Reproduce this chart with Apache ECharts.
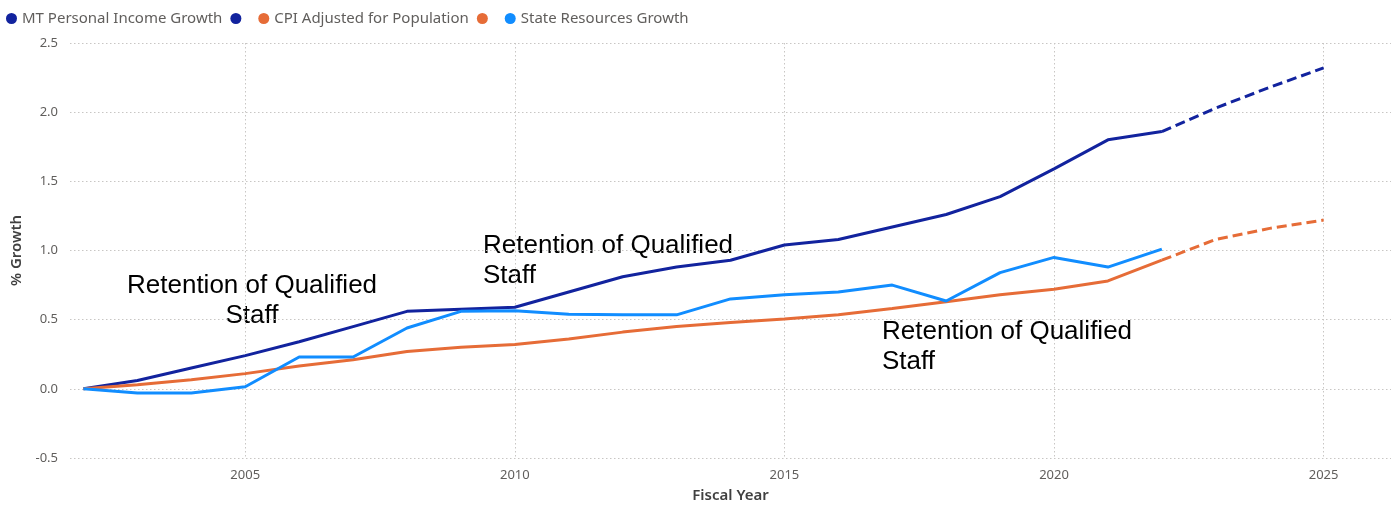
<!DOCTYPE html>
<html>
<head>
<meta charset="utf-8">
<script src="https://cdn.jsdelivr.net/npm/echarts@6/dist/echarts.min.js"></script>
<style>
  html, body { margin: 0; padding: 0; background: #fff; }
  #main { width: 1395px; height: 508px; }
</style>
</head>
<body>
<div id="main"></div>
<script>
// actual years and forecast years
var years = [2002, 2003, 2004, 2005, 2006, 2007, 2008, 2009, 2010, 2011, 2012,
             2013, 2014, 2015, 2016, 2017, 2018, 2019, 2020, 2021, 2022];
var forecastYears = [2022, 2023, 2024, 2025];

var incomeGrowth = [0, 0.06, 0.15, 0.24, 0.34, 0.45, 0.56, 0.575, 0.59, 0.70, 0.81,
                    0.88, 0.93, 1.04, 1.08, 1.17, 1.26, 1.39, 1.59, 1.80, 1.86];
var incomeForecast = [1.86, 2.03, 2.18, 2.32];

var cpiGrowth = [0, 0.03, 0.065, 0.11, 0.165, 0.21, 0.27, 0.30, 0.32, 0.36, 0.41,
                 0.45, 0.48, 0.505, 0.535, 0.58, 0.63, 0.68, 0.72, 0.78, 0.93];
var cpiForecast = [0.93, 1.08, 1.16, 1.22];

var resourcesGrowth = [0, -0.03, -0.03, 0.015, 0.23, 0.23, 0.44, 0.56, 0.565, 0.54, 0.535,
                       0.535, 0.65, 0.68, 0.70, 0.75, 0.635, 0.84, 0.95, 0.88, 1.01];

var yTicks = [-0.5, 0, 0.5, 1, 1.5, 2, 2.5];
var note = 'Retention of Qualified\nStaff';

function pairs(xs, ys) {
    return xs.map(function (x, i) { return [x, ys[i]]; });
}

var chartDom = document.getElementById('main');
var myChart = echarts.init(chartDom);
var option;

var gridLine = { color: '#C8C6C4', width: 1, type: [1.5, 2.5] };
var labelColor = '#605E5C';
var titleStyle = { color: '#404040', fontSize: 15, fontWeight: 600, fontFamily: 'Noto Sans' };
var noteFont = '26px "Liberation Sans"';

option = {
    animation: false,
    backgroundColor: '#fff',
    legend: {
        left: 1,
        top: 6,
        icon: 'circle',
        itemWidth: 11,
        itemHeight: 11,
        itemGap: 8,
        textStyle: { color: labelColor, fontSize: 15, fontFamily: 'Noto Sans' },
        formatter: function (name) {
            // forecast series only show their dot
            return name.indexOf('Forecast') >= 0 ? ' ' : name;
        },
        data: ['MT Personal Income Growth', 'MT Personal Income Growth Forecast',
               'CPI Adjusted for Population', 'CPI Adjusted for Population Forecast',
               'State Resources Growth']
    },
    grid: { left: 70, right: 4, top: 43, bottom: 49, containLabel: false },
    xAxis: {
        type: 'value',
        min: 2001.75,
        max: 2026.25,
        name: 'Fiscal Year',
        nameLocation: 'middle',
        nameGap: 30,
        nameTextStyle: titleStyle,
        axisLine: { show: false },
        axisTick: { show: false },
        axisLabel: {
            color: labelColor,
            fontSize: 13,
            fontFamily: 'Noto Sans',
            margin: 11,
            formatter: function (v) { return v % 5 === 0 ? String(v) : ''; }
        },
        splitLine: { show: true, showMinLine: false, showMaxLine: false, lineStyle: gridLine }
    },
    yAxis: {
        type: 'value',
        min: yTicks[0],
        max: yTicks[yTicks.length - 1],
        interval: 0.5,
        name: '% Growth',
        nameLocation: 'middle',
        nameGap: 45,
        nameTextStyle: titleStyle,
        axisLine: { show: false },
        axisTick: { show: false },
        axisLabel: {
            color: labelColor,
            fontSize: 13,
            fontFamily: 'Noto Sans',
            margin: 12,
            formatter: function (v) { return v.toFixed(1); }
        },
        splitLine: { show: true, lineStyle: gridLine }
    },
    graphic: [
        { type: 'text', left: 127, top: 271, style: { text: note, textAlign: 'center', font: noteFont, fill: '#000', lineHeight: 30 } },
        { type: 'text', left: 483, top: 231, style: { text: note, textAlign: 'left', font: noteFont, fill: '#000', lineHeight: 30 } },
        { type: 'text', left: 882, top: 317, style: { text: note, textAlign: 'left', font: noteFont, fill: '#000', lineHeight: 30 } }
    ],
    series: [
        {
            name: 'MT Personal Income Growth',
            type: 'line',
            data: pairs(years, incomeGrowth),
            showSymbol: false,
            color: '#12239E',
            lineStyle: { width: 3 }
        },
        {
            name: 'MT Personal Income Growth Forecast',
            type: 'line',
            data: pairs(forecastYears, incomeForecast),
            showSymbol: false,
            color: '#12239E',
            lineStyle: { width: 3, type: [10, 5] }
        },
        {
            name: 'CPI Adjusted for Population',
            type: 'line',
            data: pairs(years, cpiGrowth),
            showSymbol: false,
            color: '#E66C37',
            lineStyle: { width: 3 }
        },
        {
            name: 'CPI Adjusted for Population Forecast',
            type: 'line',
            data: pairs(forecastYears, cpiForecast),
            showSymbol: false,
            color: '#E66C37',
            lineStyle: { width: 3, type: [10, 5] }
        },
        {
            name: 'State Resources Growth',
            type: 'line',
            data: pairs(years, resourcesGrowth),
            showSymbol: false,
            color: '#118DFF',
            lineStyle: { width: 3 }
        }
    ]
};

option && myChart.setOption(option);
</script>
</body>
</html>
